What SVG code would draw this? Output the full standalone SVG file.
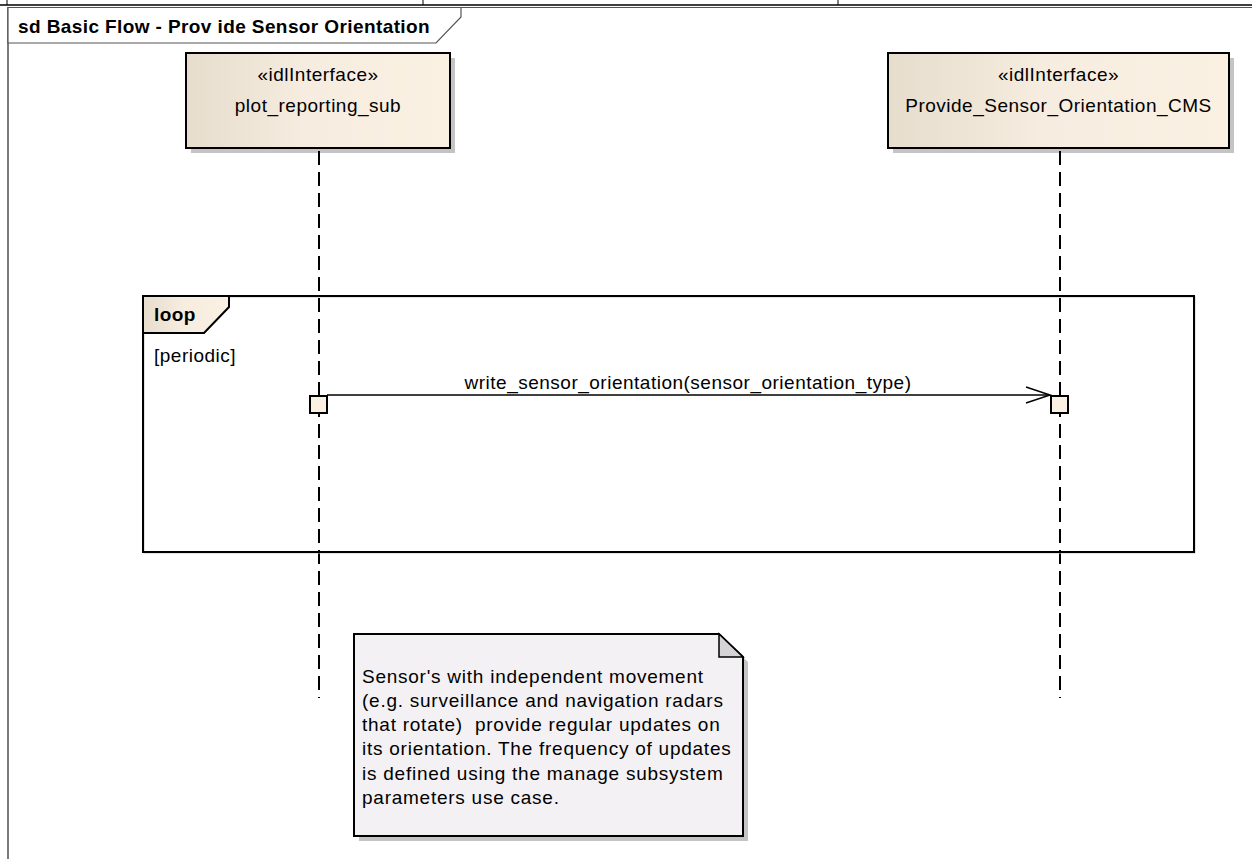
<svg xmlns="http://www.w3.org/2000/svg" width="1252" height="859" viewBox="0 0 1252 859">
<style>
text{font-family:"Liberation Sans",Arial,sans-serif;fill:#000}
.t{font-size:19px;letter-spacing:0.5px}
.n{letter-spacing:0.75px}
.b{font-size:19px;font-weight:bold;letter-spacing:0.4px}
.c{text-anchor:middle}
.box{stroke:#000;stroke-width:2;fill:url(#g)}
.sh{fill:#c4c4c4}
.life{stroke:#000;stroke-width:2;stroke-dasharray:14 7;fill:none}
.act{fill:#fbf1e3;stroke:#000;stroke-width:2}
</style>
<defs>
<linearGradient id="g" x1="0" y1="0" x2="1" y2="0">
<stop offset="0" stop-color="#e7ddcd"/>
<stop offset="0.45" stop-color="#f6ecdf"/>
<stop offset="1" stop-color="#fbf1e3"/>
</linearGradient>
</defs>
<rect width="1252" height="859" fill="#fff"/>
<g id="frame">
<line x1="0" y1="5" x2="1252" y2="5" stroke="#000" stroke-width="1.5"/>
<line x1="7" y1="0" x2="7" y2="5" stroke="#000" stroke-width="1"/>
<line x1="423" y1="0" x2="423" y2="5" stroke="#000" stroke-width="1"/>
<line x1="838" y1="0" x2="838" y2="5" stroke="#000" stroke-width="1"/>
<line x1="7" y1="7.5" x2="1252" y2="7.5" stroke="#555" stroke-width="1"/>
<line x1="8" y1="7" x2="8" y2="859" stroke="#7a7a7a" stroke-width="2"/>
<polygon points="8,7.5 461,7.5 461,17 436,43 8,43" fill="#fff" stroke="#555" stroke-width="1.2"/>
<text class="b" x="18" y="33">sd Basic Flow - Prov ide Sensor Orientation</text>
</g>
<g id="lifeline1">
<rect class="sh" x="191" y="58" width="264" height="95"/>
<rect class="box" x="186" y="53" width="264" height="95"/>
<text class="t c" x="318" y="81">«idlInterface»</text>
<text class="t c" x="318" y="112">plot_reporting_sub</text>
<line class="life" x1="319" y1="151" x2="319" y2="698"/>
</g>
<g id="lifeline2">
<rect class="sh" x="893" y="58" width="341" height="95"/>
<rect class="box" x="888" y="53" width="341" height="95"/>
<text class="t c" x="1058.5" y="81">«idlInterface»</text>
<text class="t c" x="1058.5" y="112">Provide_Sensor_Orientation_CMS</text>
<line class="life" x1="1060" y1="151" x2="1060" y2="698"/>
</g>
<g id="loop">
<rect x="144" y="297" width="1051" height="256" fill="none" stroke="#c8c8c8" stroke-width="1"/>
<rect x="143" y="296" width="1051" height="256" fill="none" stroke="#000" stroke-width="2"/>
<polygon points="143,296 229,296 229,307 204,333 143,333" fill="url(#g)" stroke="#000" stroke-width="2"/>
<text class="b" x="154" y="321">loop</text>
<text class="t" x="154" y="362">[periodic]</text>
</g>
<g id="connectors">
<line x1="327" y1="395" x2="1050" y2="395" stroke="#000" stroke-width="1.5"/>
<polyline points="1026,387 1050,395 1026,403" fill="none" stroke="#000" stroke-width="1.5"/>
<text class="t c" x="688" y="389">write_sensor_orientation(sensor_orientation_type)</text>
</g>
<g id="activation1"><rect class="act" x="310" y="396" width="17" height="17"/></g>
<g id="activation2"><rect class="act" x="1051" y="396" width="17" height="17"/></g>
<g id="note">
<polygon points="359,639 724,639 748,662 748,841 359,841" fill="#c4c4c4"/>
<polygon points="354,634 719,634 743,657 743,836 354,836" fill="#f4f1f4" stroke="#000" stroke-width="2"/>
<polygon points="719,634 719,657 743,657" fill="#d6d3d6" stroke="#000" stroke-width="1.5"/>
<text class="t n" x="362" y="683">Sensor's with independent movement</text>
<text class="t n" x="362" y="707">(e.g. surveillance and navigation radars</text>
<text class="t n" x="362" y="731" style="white-space:pre">that rotate)  provide regular updates on</text>
<text class="t n" x="362" y="755">its orientation. The frequency of updates</text>
<text class="t n" x="362" y="780">is defined using the manage subsystem</text>
<text class="t n" x="362" y="804">parameters use case.</text>
</g>
</svg>
